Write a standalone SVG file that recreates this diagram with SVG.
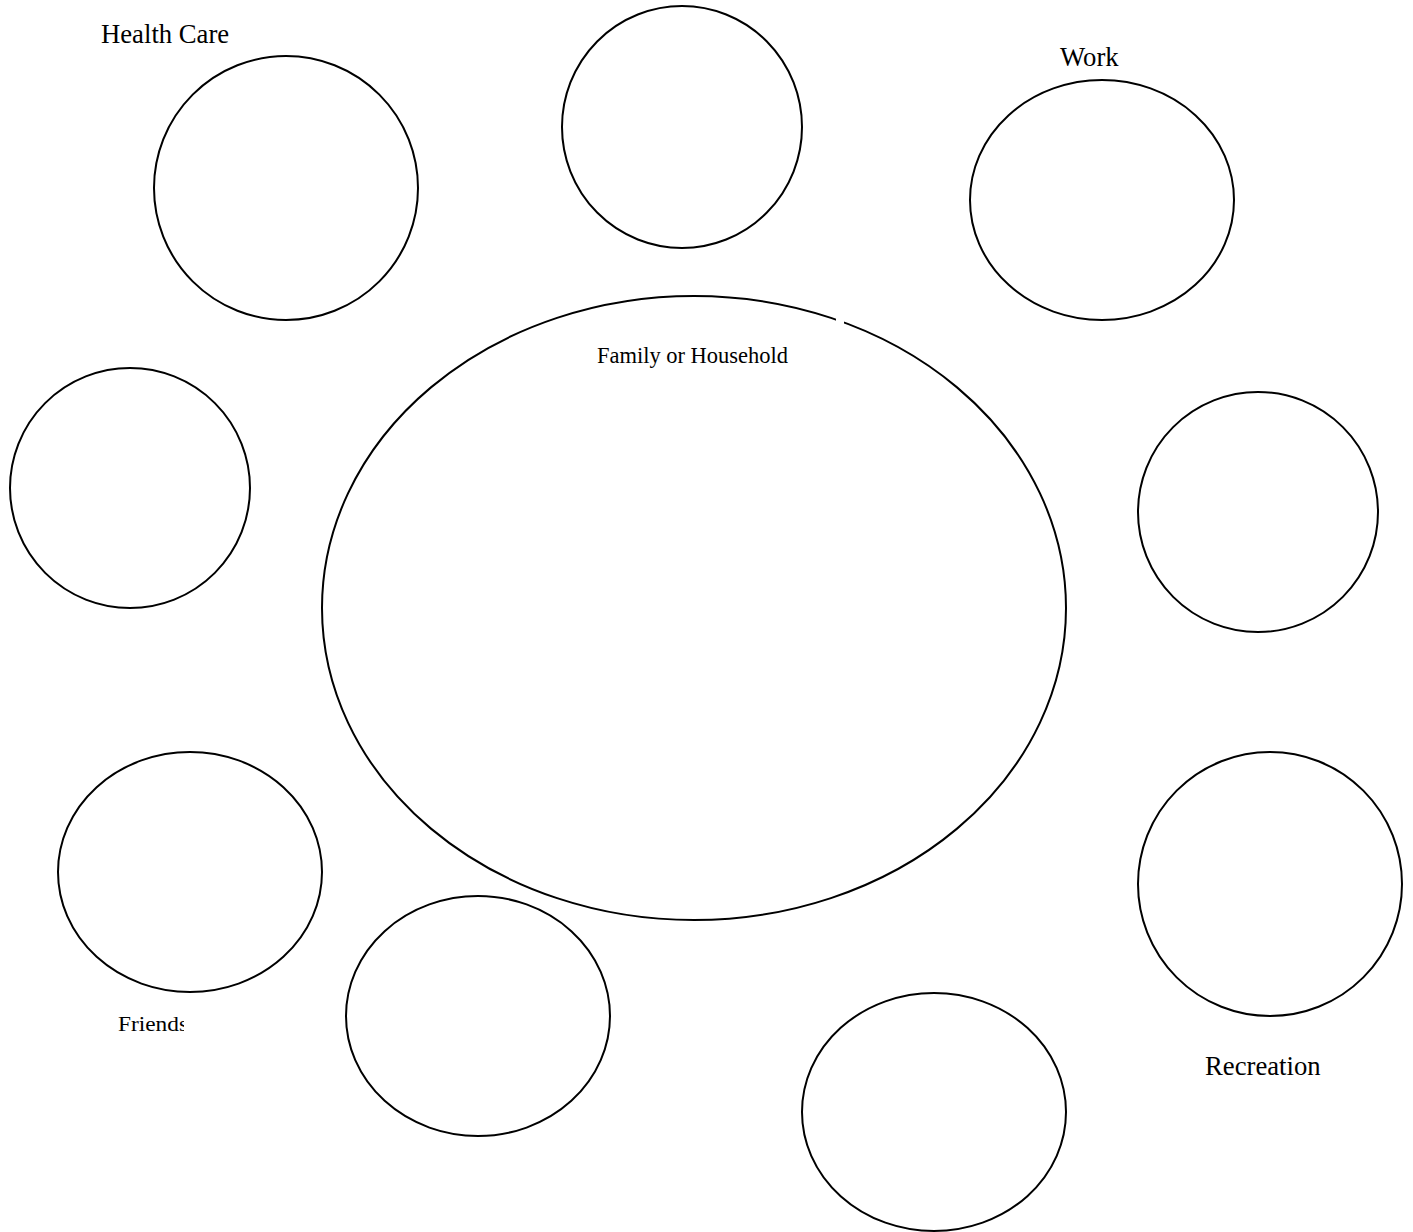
<svg xmlns="http://www.w3.org/2000/svg" width="1413" height="1232" viewBox="0 0 1413 1232">
<style>
.c{fill:none;stroke:#000;stroke-width:2}
.t{font-family:"Liberation Serif","Times New Roman",serif;fill:#000}
.l{font-size:26.7px}
</style>
<defs>
<clipPath id="fc"><rect x="100" y="1000" width="84" height="50"/></clipPath>
</defs>
<rect width="1413" height="1232" fill="#fff"/>
<g id="family">
<ellipse class="c" cx="694" cy="608" rx="372" ry="312"/>
<rect x="836" y="312" width="8" height="14" fill="#fff"/>
<text class="t" x="597" y="363" font-size="24" textLength="191" lengthAdjust="spacingAndGlyphs">Family or Household</text>
</g>
<g id="health-care">
<ellipse class="c" cx="286" cy="188" rx="132" ry="132"/>
<text class="t l" x="101" y="43">Health Care</text>
</g>
<g id="top"><ellipse class="c" cx="682" cy="127" rx="120" ry="121"/></g>
<g id="work">
<ellipse class="c" cx="1102" cy="200" rx="132" ry="120"/>
<text class="t l" x="1060" y="66">Work</text>
</g>
<g id="left-mid"><ellipse class="c" cx="130" cy="488" rx="120" ry="120"/></g>
<g id="right-mid"><ellipse class="c" cx="1258" cy="512" rx="120" ry="120"/></g>
<g id="friends">
<ellipse class="c" cx="190" cy="872" rx="132" ry="120"/>
<text class="t" x="118" y="1031" font-size="22" textLength="70" lengthAdjust="spacingAndGlyphs" clip-path="url(#fc)">Friends</text>
</g>
<g id="bottom-left"><ellipse class="c" cx="478" cy="1016" rx="132" ry="120"/></g>
<g id="bottom-right"><ellipse class="c" cx="934" cy="1112" rx="132" ry="119"/></g>
<g id="recreation">
<ellipse class="c" cx="1270" cy="884" rx="132" ry="132"/>
<text class="t l" x="1205" y="1075">Recreation</text>
</g>
<g id="connectors"></g>
</svg>
